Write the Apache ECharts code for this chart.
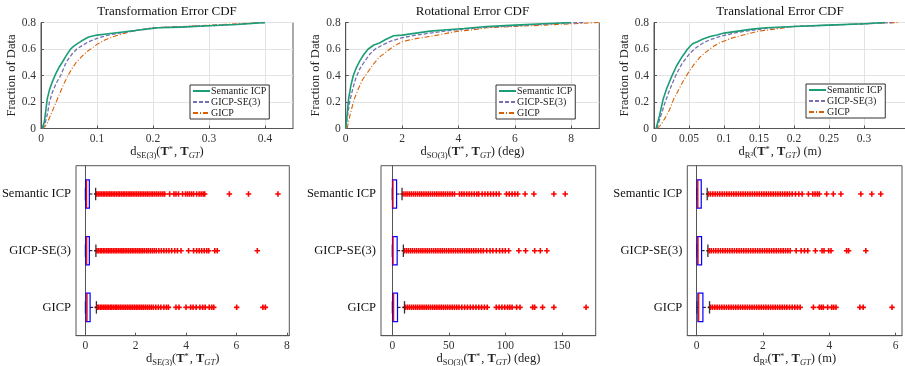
<!DOCTYPE html>
<html><head><meta charset="utf-8">
<script src="https://cdn.jsdelivr.net/npm/echarts@6/dist/echarts.min.js"></script>
<style>html,body{margin:0;padding:0;background:#fff}#c{width:905px;height:366px}</style>
</head><body><div id="c"></div>
<script>
const seriesNames = ['Semantic ICP', 'GICP-SE(3)', 'GICP'];
const categories = ['Semantic ICP', 'GICP-SE(3)', 'GICP'];
const plotTitles = ['Transformation Error CDF', 'Rotational Error CDF', 'Translational Error CDF'];
const yTickLabels = [0, 0.2, 0.4, 0.6, 0.8];
const se3Ticks = [0, 0.1, 0.2, 0.3, 0.4];
const so3Ticks = [0, 2, 4, 6, 8];
const r3Ticks = [0, 0.05, 0.1, 0.15, 0.2, 0.25, 0.3];
const se3BoxTicks = [0, 2, 4, 6, 8];
const so3BoxTicks = [0, 50, 100, 150];
const r3BoxTicks = [0, 2, 4, 6];

// CDF curves [error, fraction]
const cdfSe3Sem = [[0.002,0],[0.006,0.05],[0.009,0.15],[0.011,0.22],[0.015,0.29],[0.02,0.35],[0.026,0.41],[0.032,0.46],[0.038,0.5],[0.045,0.55],[0.053,0.6],[0.058,0.62],[0.065,0.64],[0.072,0.66],[0.085,0.69],[0.1,0.705],[0.12,0.715],[0.15,0.73],[0.18,0.745],[0.21,0.76],[0.25,0.765],[0.3,0.775],[0.35,0.785],[0.4,0.8]];
const cdfSe3Gse = [[0.003,0],[0.008,0.05],[0.012,0.12],[0.015,0.2],[0.02,0.27],[0.027,0.34],[0.035,0.4],[0.045,0.5],[0.055,0.56],[0.064,0.6],[0.075,0.63],[0.085,0.655],[0.1,0.68],[0.12,0.705],[0.14,0.72],[0.17,0.74],[0.2,0.76],[0.25,0.767],[0.3,0.776],[0.35,0.786],[0.4,0.8]];
const cdfSe3Gicp = [[0.003,0],[0.008,0.02],[0.012,0.05],[0.017,0.1],[0.022,0.15],[0.028,0.21],[0.034,0.27],[0.04,0.33],[0.047,0.39],[0.055,0.45],[0.063,0.5],[0.072,0.54],[0.082,0.58],[0.092,0.61],[0.1,0.635],[0.115,0.67],[0.13,0.695],[0.15,0.72],[0.17,0.74],[0.2,0.76],[0.25,0.77],[0.3,0.78],[0.35,0.79],[0.4,0.8]];
const cdfSo3Sem = [[0,0],[0.05,0.1],[0.1,0.22],[0.18,0.32],[0.27,0.4],[0.38,0.46],[0.5,0.51],[0.65,0.56],[0.8,0.6],[1.0,0.63],[1.2,0.645],[1.4,0.67],[1.7,0.7],[2.0,0.705],[2.5,0.72],[3.0,0.735],[3.6,0.745],[4.2,0.755],[5.0,0.77],[6.0,0.78],[7.0,0.79],[8.0,0.8]];
const cdfSo3Gse = [[0,0],[0.07,0.1],[0.14,0.2],[0.25,0.3],[0.36,0.38],[0.5,0.45],[0.65,0.5],[0.85,0.56],[1.05,0.6],[1.3,0.63],[1.6,0.66],[2.0,0.685],[2.5,0.705],[3.0,0.72],[3.5,0.735],[4.2,0.75],[5.0,0.765],[6.0,0.775],[7.0,0.787],[8.0,0.797],[8.5,0.8]];
const cdfSo3Gicp = [[0.05,0],[0.12,0.07],[0.2,0.14],[0.3,0.22],[0.45,0.3],[0.6,0.37],[0.8,0.43],[1.0,0.49],[1.2,0.54],[1.45,0.58],[1.7,0.62],[2.0,0.655],[2.4,0.675],[3.0,0.695],[3.5,0.715],[4.0,0.735],[4.5,0.745],[5.0,0.76],[6.0,0.77],[7.0,0.78],[8.0,0.79],[9.0,0.8]];
const cdfR3Sem = [[0.003,0],[0.008,0.1],[0.013,0.22],[0.018,0.3],[0.025,0.39],[0.032,0.47],[0.04,0.54],[0.048,0.6],[0.055,0.64],[0.062,0.655],[0.07,0.675],[0.08,0.695],[0.09,0.705],[0.1,0.72],[0.12,0.735],[0.14,0.75],[0.16,0.76],[0.2,0.77],[0.25,0.78],[0.3,0.79],[0.33,0.8]];
const cdfR3Gse = [[0.004,0],[0.01,0.1],[0.016,0.2],[0.023,0.3],[0.031,0.4],[0.04,0.49],[0.05,0.56],[0.06,0.61],[0.07,0.645],[0.08,0.67],[0.095,0.695],[0.11,0.715],[0.13,0.735],[0.16,0.755],[0.2,0.77],[0.25,0.78],[0.3,0.79],[0.34,0.8]];
const cdfR3Gicp = [[0.005,0],[0.01,0.03],[0.016,0.08],[0.022,0.14],[0.028,0.22],[0.035,0.29],[0.042,0.36],[0.05,0.43],[0.058,0.49],[0.066,0.54],[0.075,0.58],[0.085,0.62],[0.095,0.65],[0.11,0.68],[0.13,0.71],[0.15,0.735],[0.18,0.755],[0.2,0.77],[0.25,0.78],[0.3,0.79],[0.35,0.8]];

// Box statistics: [lower whisker, q1, median, q3, upper whisker]
const se3Box = [[0.003,0.016,0.05,0.16,0.41],[0.004,0.02,0.055,0.16,0.42],[0.004,0.03,0.07,0.19,0.44]];
const so3Box = [[0.02,0.15,0.6,3.8,8.6],[0.03,0.2,0.7,4.3,9.8],[0.05,0.45,1.2,4.6,10.8]];
const r3Box = [[0.002,0.015,0.04,0.14,0.32],[0.003,0.018,0.045,0.15,0.34],[0.005,0.04,0.065,0.19,0.39]];

// Outliers
const se3OutSem = [0.45,0.51,0.58,0.64,0.71,0.77,0.84,0.9,0.97,1.03,1.1,1.16,1.23,1.3,1.36,1.43,1.5,1.56,1.63,1.7,1.77,1.83,1.9,1.97,2.04,2.11,2.18,2.25,2.32,2.39,2.46,2.53,2.61,2.68,2.76,2.84,2.92,3.0,3.08,3.15,3.35,3.52,3.6,3.7,3.86,3.98,4.06,4.14,4.22,4.3,4.42,4.52,4.6,4.68,4.74,5.72,6.48,7.65];
const se3OutGse = [0.46,0.52,0.59,0.65,0.72,0.78,0.85,0.91,0.98,1.04,1.11,1.18,1.24,1.31,1.38,1.45,1.51,1.58,1.65,1.72,1.79,1.86,1.93,2.0,2.07,2.14,2.21,2.28,2.35,2.43,2.5,2.58,2.66,2.74,2.82,2.92,3.02,3.12,3.22,3.32,3.43,3.55,3.66,3.8,4.1,4.3,4.42,4.52,4.62,4.72,4.82,4.9,5.14,5.24,6.83];
const se3OutGicp = [0.47,0.53,0.6,0.66,0.73,0.79,0.86,0.92,0.99,1.05,1.12,1.19,1.25,1.32,1.39,1.46,1.53,1.6,1.67,1.74,1.81,1.88,1.95,2.02,2.09,2.16,2.23,2.3,2.38,2.46,2.54,2.62,2.7,2.8,2.9,3.0,3.12,3.22,3.3,3.6,3.72,4.0,4.18,4.28,4.4,4.55,4.66,4.76,4.92,5.02,5.1,6.01,7.05,7.15];
const so3OutSem = [9.5,11.3,13.1,15,16.8,18.7,20.5,22.4,24.3,26.1,28,29.9,31.8,33.7,35.6,37.5,39.4,41.3,43.2,45.1,47,49,51,53,55,59.5,61.5,63.5,65.8,68,70.2,72.5,74.8,76.5,79.5,82,84.5,87,89.5,92,94.5,101,103.5,106,108.5,111,117.5,125.3,143,153];
const so3OutGse = [10.5,12.3,14.1,16,17.8,19.7,21.5,23.4,25.3,27.1,29,30.9,32.8,34.7,36.6,38.5,40.4,42.3,44.2,46.1,48,50,52,54,56,58,60,62,64,66,68,70,72,74,76.2,78.4,80.6,83.5,86.5,89,92,95,97.5,100,103,112,118,126,131,136.8];
const so3OutGicp = [11.5,13.3,15.1,17,18.8,20.7,22.5,24.4,26.3,28.1,30,31.9,33.8,35.7,37.6,39.5,41.4,43.3,45.2,47.1,49,51,53,55,57,59,61.5,64,66.5,69,71.5,74,76.5,79,81.5,84,92,94.5,97,99.5,102,104,106,110,113,124.2,126,133,143,171.5];
const r3OutSem = [0.36,0.42,0.49,0.56,0.63,0.7,0.77,0.84,0.91,0.98,1.05,1.12,1.19,1.26,1.33,1.4,1.47,1.54,1.61,1.68,1.75,1.82,1.89,1.96,2.03,2.1,2.17,2.24,2.31,2.38,2.45,2.52,2.59,2.66,2.73,2.8,2.88,2.98,3.08,3.18,3.37,3.5,3.57,3.64,3.7,3.92,4.12,4.35,4.95,5.28,5.55];
const r3OutGse = [0.38,0.44,0.51,0.58,0.65,0.72,0.79,0.86,0.93,1.0,1.07,1.14,1.21,1.28,1.35,1.42,1.49,1.56,1.63,1.7,1.77,1.84,1.91,1.98,2.05,2.12,2.19,2.26,2.33,2.4,2.47,2.54,2.61,2.68,2.75,2.82,3.0,3.15,3.25,3.35,3.58,3.78,3.84,3.98,4.05,4.52,4.58,5.1];
const r3OutGicp = [0.42,0.48,0.55,0.62,0.69,0.76,0.83,0.9,0.97,1.04,1.11,1.18,1.25,1.32,1.39,1.46,1.53,1.6,1.67,1.74,1.81,1.88,1.95,2.02,2.09,2.16,2.23,2.3,2.37,2.44,2.51,2.58,2.65,2.72,2.8,2.88,2.96,3.04,3.12,3.52,3.7,3.76,3.82,3.95,4.07,4.13,4.2,4.92,5.02,5.89];

const FONT = 'Liberation Serif';
const COLORS = ['#1b9e77', '#7570b3', '#d95f02'];
const LINE_TYPES = ['solid', [4, 2], [5, 2, 1, 2]];
const LINE_WIDTHS = [1.6, 1.3, 1.1];
const FRAME = '#555';

const rich = {
  n: {fontFamily: FONT, fontSize: 12.5, color: '#222', verticalAlign: 'top', lineHeight: 14},
  b: {fontFamily: FONT, fontSize: 12.5, color: '#222', fontWeight: 'bold', verticalAlign: 'top', lineHeight: 14},
  s: {fontFamily: FONT, fontSize: 8.5, color: '#222', verticalAlign: 'top', lineHeight: 9, padding: [6, 0, 0, 0]},
  si: {fontFamily: FONT, fontSize: 8.5, color: '#222', fontStyle: 'italic', verticalAlign: 'top', lineHeight: 9, padding: [6, 0, 0, 0]},
  p: {fontFamily: FONT, fontSize: 8.5, color: '#222', verticalAlign: 'top', lineHeight: 9, padding: [0, 1, 0, 0]}
};
function axisName(sub, unit) {
  return '{n|d}{s|' + sub + '}{n|(}{b|T}{p|*}{n|, }{b|T}{si|GT}{n|)' + (unit ? ' (' + unit + ')' : '') + '}';
}

const topGrids = [
  {left: 41, top: 22.5, width: 252, height: 106},
  {left: 345.7, top: 22.5, width: 253.6, height: 106},
  {left: 654, top: 22.5, width: 252, height: 106}
];
const botGrids = [
  {left: 76, top: 165.7, width: 213.3, height: 170},
  {left: 381, top: 165.7, width: 214.7, height: 170},
  {left: 687.3, top: 165.7, width: 214.7, height: 170}
];
const grid = topGrids.concat(botGrids).map(g => Object.assign({show: true, borderColor: FRAME, borderWidth: 1, backgroundColor: '#fff', containLabel: false, outerBoundsMode: 'none'}, g));

const tickLabel = {fontFamily: FONT, fontSize: 11.5, color: '#333', margin: 4};
const topX = [
  {min: 0, max: 0.45, ticks: se3Ticks, name: axisName('SE(3)', '')},
  {min: 0, max: 9, ticks: so3Ticks, name: axisName('SO(3)', 'deg')},
  {min: 0, max: 0.36, ticks: r3Ticks, name: axisName('R³', 'm')}
];
const botX = [
  {min: -0.37, max: 8.1, ticks: se3BoxTicks, name: axisName('SE(3)', '')},
  {min: -10, max: 180, ticks: so3BoxTicks, name: axisName('SO(3)', 'deg')},
  {min: -0.28, max: 6.19, ticks: r3BoxTicks, name: axisName('R³', 'm')}
];

const xAxis = [], yAxis = [], series = [], title = [], legend = [];
topX.forEach((a, i) => {
  xAxis.push({type: 'value', gridIndex: i, min: a.min, max: a.max,
    name: a.name, nameLocation: 'middle', nameGap: 17, nameTextStyle: {rich},
    axisLine: {show: true, lineStyle: {color: FRAME}},
    axisTick: {show: true, inside: true, length: 3, customValues: a.ticks, lineStyle: {color: FRAME}},
    axisLabel: Object.assign({customValues: a.ticks}, tickLabel),
    splitLine: {show: true, lineStyle: {color: '#e3e3e3', width: 1}}
  });
  yAxis.push({type: 'value', gridIndex: i, min: 0, max: 0.8, interval: 0.2,
    name: 'Fraction of Data', nameLocation: 'middle', nameGap: 17,
    nameTextStyle: {fontFamily: FONT, fontSize: 12.5, color: '#222'},
    axisLine: {show: true, lineStyle: {color: FRAME}},
    axisTick: {show: true, inside: true, length: 3, lineStyle: {color: FRAME}},
    axisLabel: Object.assign({}, tickLabel, {margin: 5}),
    splitLine: {show: true, lineStyle: {color: '#e3e3e3', width: 1}}
  });
  const g = topGrids[i];
  title.push({text: plotTitles[i], left: g.left + g.width / 2, top: 5, textAlign: 'center', padding: 0,
    textStyle: {fontFamily: FONT, fontSize: 13, fontWeight: 'normal', color: '#111'}});
});
const legendPos = [[190, 85], [496, 85], [806, 84]];
legendPos.forEach((p, i) => {
  legend.push({data: seriesNames, orient: 'vertical', left: p[0], top: p[1], padding: [1, 3, 1, 2],
    itemWidth: 17, itemHeight: 9, itemGap: 1, backgroundColor: '#fff', borderColor: '#333', borderWidth: 1, borderRadius: 0,
    itemStyle: {opacity: 0},
    textStyle: {fontFamily: FONT, fontSize: 10, color: '#222', padding: [0, 0, 0, -4]}, selectedMode: false});
});

const cdfSets = [[cdfSe3Sem, cdfSe3Gse, cdfSe3Gicp], [cdfSo3Sem, cdfSo3Gse, cdfSo3Gicp], [cdfR3Sem, cdfR3Gse, cdfR3Gicp]];
cdfSets.forEach((set, gi) => {
  set.forEach((d, si) => {
    series.push({type: 'line', name: seriesNames[si], xAxisIndex: gi, yAxisIndex: gi, data: d,
      symbol: 'none', showSymbol: false, clip: true, z: 3 - si + 2,
      itemStyle: {color: COLORS[si]},
      lineStyle: {color: COLORS[si], width: LINE_WIDTHS[si], type: LINE_TYPES[si]}});
  });
});

botX.forEach((a, i) => {
  const gi = 3 + i;
  xAxis.push({type: 'value', gridIndex: gi, min: a.min, max: a.max,
    name: a.name, nameLocation: 'middle', nameGap: 16, nameTextStyle: {rich},
    axisLine: {show: true, onZero: false, lineStyle: {color: FRAME}},
    axisTick: {show: true, inside: true, length: 3, customValues: a.ticks, lineStyle: {color: FRAME}},
    axisLabel: Object.assign({customValues: a.ticks}, tickLabel),
    splitLine: {show: false}
  });
  yAxis.push({type: 'category', gridIndex: gi, data: categories, inverse: true,
    axisLine: {show: true, lineStyle: {color: FRAME}}, axisTick: {show: false},
    axisLabel: {fontFamily: FONT, fontSize: 12.5, color: '#111', margin: 5}, splitLine: {show: false}});
});

function renderBox(params, api) {
  const c = api.value(0);
  const lo = api.coord([api.value(1), c]);
  const q1 = api.coord([api.value(2), c]);
  const md = api.coord([api.value(3), c]);
  const q3 = api.coord([api.value(4), c]);
  const hi = api.coord([api.value(5), c]);
  const band = api.size([0, 1])[1];
  const bh = band * 0.5, ch = band * 0.22, y = q1[1];
  return {type: 'group', children: [
    {type: 'line', shape: {x1: lo[0], y1: y, x2: q1[0], y2: y}, style: {stroke: '#000', lineWidth: 1, lineDash: [3, 2]}},
    {type: 'line', shape: {x1: q3[0], y1: y, x2: hi[0], y2: y}, style: {stroke: '#000', lineWidth: 1, lineDash: [3, 2]}},
    {type: 'line', shape: {x1: lo[0], y1: y - ch / 2, x2: lo[0], y2: y + ch / 2}, style: {stroke: '#333', lineWidth: 1.3}},
    {type: 'line', shape: {x1: hi[0], y1: y - ch / 2, x2: hi[0], y2: y + ch / 2}, style: {stroke: '#333', lineWidth: 1.3}},
    {type: 'rect', shape: {x: q1[0], y: y - bh / 2, width: q3[0] - q1[0], height: bh}, style: {fill: 'none', stroke: '#0000ff', lineWidth: 1.2}},
    {type: 'line', shape: {x1: md[0], y1: y - bh / 2, x2: md[0], y2: y + bh / 2}, style: {stroke: '#ff0000', lineWidth: 1.2}}
  ]};
}

const boxSets = [se3Box, so3Box, r3Box];
const outSets = [[se3OutSem, se3OutGse, se3OutGicp], [so3OutSem, so3OutGse, so3OutGicp], [r3OutSem, r3OutGse, r3OutGicp]];
boxSets.forEach((bs, i) => {
  const gi = 3 + i;
  series.push({type: 'custom', xAxisIndex: gi, yAxisIndex: gi, renderItem: renderBox,
    encode: {x: [1, 2, 3, 4, 5], y: 0}, clip: false, z: 4,
    data: bs.map((b, ci) => [ci].concat(b))});
  const pts = [];
  outSets[i].forEach((arr, ci) => arr.forEach(v => pts.push([v, ci])));
  series.push({type: 'scatter', xAxisIndex: gi, yAxisIndex: gi, data: pts, z: 3,
    symbol: 'path://M5,0L5,10M0,5L10,5', symbolSize: 5.5,
    itemStyle: {color: 'rgba(0,0,0,0)', borderColor: '#ff0000', borderWidth: 1.6, opacity: 1}});
});

const chart = echarts.init(document.getElementById('c'), null, {renderer: 'canvas'});
chart.setOption({animation: false, backgroundColor: '#fff', title, legend, grid, xAxis, yAxis, series});
</script></body></html>
